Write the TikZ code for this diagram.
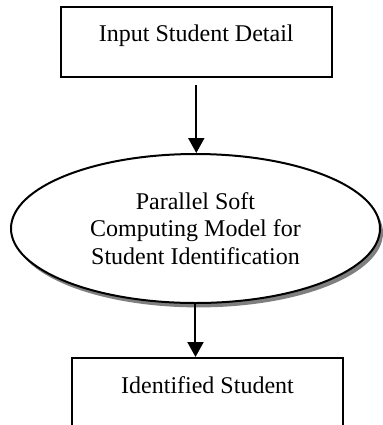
\documentclass[tikz,border=0pt]{standalone}
\usepackage{fontspec}
\setmainfont{Liberation Serif}
\usetikzlibrary{arrows.meta,shadows,shapes.geometric}
\begin{document}
\begin{tikzpicture}[x=0.5pt,y=-0.5pt,
  font=\fontsize{12}{13.8}\selectfont,
  boxnode/.style={draw, line width=1pt, rectangle, inner sep=0pt,
    minimum width=135.5pt, text height=17.5pt, text depth=17.5pt},
  ellnode/.style={draw, line width=1pt, ellipse, inner sep=0pt, fill=white,
    minimum width=184.5pt, minimum height=74.5pt, align=center,
    drop shadow={shadow xshift=1.5pt, shadow yshift=-2.2pt, fill=black, opacity=0.5}},
  flow/.style={line width=1pt, -{Triangle[width=8pt,length=7.5pt]}}]
\useasboundingbox (0,0) rectangle (382,425);
\node[boxnode] (input) at (196.3,41.7) {Input Student Detail};
\node[ellnode] (model) at (195.5,228.5) {Parallel Soft\\Computing Model for\\Student Identification};
\node[boxnode] (out) at (207.5,393) {Identified Student};
\draw[flow, shorten <=3.7pt] (input.south) -- (input.south |- model.north);
\draw[flow] (model.south) -- (model.south |- out.north);
\end{tikzpicture}
\end{document}
